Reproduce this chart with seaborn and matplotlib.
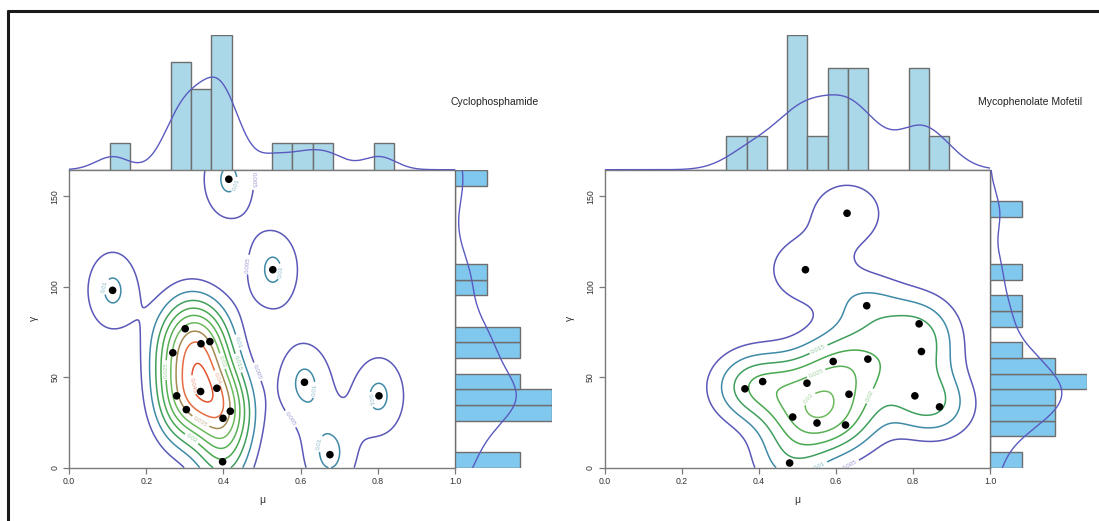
import numpy as np
import matplotlib
matplotlib.use("Agg")
import matplotlib.pyplot as plt
from matplotlib.lines import Line2D
import seaborn as sns

# ---------------- data ----------------
cyc_mu = [0.113, 0.414, 0.528, 0.301, 0.342, 0.365, 0.269, 0.341, 0.383,
          0.279, 0.304, 0.418, 0.399, 0.398, 0.610, 0.803, 0.676]
cyc_gamma = [98.0, 159.4, 109.4, 76.8, 68.5, 69.7, 63.5, 42.1, 43.9,
             39.7, 32.1, 31.2, 27.3, 3.3, 47.2, 39.7, 7.2]
mmf_mu = [0.629, 0.521, 0.680, 0.816, 0.822, 0.593, 0.683, 0.410, 0.525,
          0.364, 0.634, 0.805, 0.869, 0.488, 0.551, 0.625, 0.480]
mmf_gamma = [140.6, 109.4, 89.5, 79.5, 64.2, 58.7, 60.0, 47.6, 46.7,
             43.6, 40.6, 39.7, 33.6, 28.0, 24.7, 23.6, 2.6]
titles = ["Cyclophosphamide", "Mycophenolate Mofetil"]
levels = [0.005, 0.01, 0.015, 0.02, 0.025, 0.03, 0.035, 0.04, 0.045]
level_colors = ["#5a58b8", "#3f8aa6", "#3e9e5c", "#47a84e", "#58b054",
                "#6cba5c", "#a38a52", "#e46c40", "#e2532f"]
x_ticks = [0.0, 0.2, 0.4, 0.6, 0.8, 1.0]
x_tick_labels = ["0.0", "0.2", "0.4", "0.6", "0.8", "1.0"]
y_ticks = [0, 50, 100, 150]
y_tick_labels = ["0", "50", "100", "150"]
YMAX = 164.5
N_BINS = 19

# ---------------- style ----------------
sns.set_style("white")
plt.rcParams["font.family"] = ["Liberation Sans", "DejaVu Sans"]

W, H = 1099, 521
fig = plt.figure(figsize=(W / 100, H / 100), dpi=100)


def fr(x0, y0, x1, y1):
    return [x0 / W, 1 - y1 / H, (x1 - x0) / W, (y1 - y0) / H]


def nrd_sd(v, mult):
    v = np.asarray(v)
    q1, q3 = np.percentile(v, [25, 75])
    return mult * min(np.std(v, ddof=1), (q3 - q1) / 1.34) * len(v) ** -0.2


def kde2d(x, y, gx, gy):
    x = np.asarray(x); y = np.asarray(y)
    n = len(x)
    hx, hy = nrd_sd(x, 1.06), nrd_sd(y, 1.06)
    kx = np.exp(-0.5 * ((gx[:, None] - x[None, :]) / hx) ** 2) / (np.sqrt(2 * np.pi) * hx)
    ky = np.exp(-0.5 * ((gy[:, None] - y[None, :]) / hy) ** 2) / (np.sqrt(2 * np.pi) * hy)
    return ky @ kx.T / n


spine_col = "#7a7a7a"
txt_col = "#333333"
top_fill = "#aad8e8"
side_fill = "#80c8ee"
edge_col = "#6e6e6e"
curve_col = "#5a5ac0"

panels = [
    (cyc_mu, cyc_gamma, 69, 455, 450.7),
    (mmf_mu, mmf_gamma, 604.7, 990, 978.3),
]

xbins = np.linspace(0, 1, N_BINS + 1)
ybins = np.linspace(0, YMAX, N_BINS + 1)

for i, (mu, gam, xl, xr, tx) in enumerate(panels):
    ax = fig.add_axes(fr(xl, 170, xr, 467.7))
    axt = fig.add_axes(fr(xl, 34.7, xr, 169.7))
    axr = fig.add_axes(fr(xr, 170, xr + 97, 467.7))

    # contours
    gx = np.linspace(0, 1, 300)
    gy = np.linspace(0, YMAX, 300)
    Z = kde2d(mu, gam, gx, gy)
    cs = ax.contour(gx, gy, Z, levels=levels, colors=level_colors, linewidths=1.1)
    labs = ax.clabel(cs, fmt=lambda v: f"{v:g}", fontsize=4.5, inline=True, inline_spacing=2)
    for t in labs:
        t.set_alpha(0.6)
    sns.scatterplot(x=mu, y=gam, color="black", s=30, edgecolor="none", ax=ax, zorder=5)

    ax.set_xlim(0, 1)
    ax.set_ylim(0, YMAX)
    ax.set_xticks(x_ticks)
    ax.set_xticklabels(x_tick_labels)
    ax.set_yticks(y_ticks)
    ax.set_yticklabels(y_tick_labels, rotation=90, va="center")
    for s in ax.spines.values():
        s.set_color(spine_col)
        s.set_linewidth(1.0)
        s.set_visible(True)
    ax.tick_params(axis="both", direction="out", length=4, width=0.9, color=spine_col,
                   labelsize=6.3, labelcolor=txt_col, pad=3, bottom=True, left=True)
    ax.set_xlabel("μ", fontsize=7.5, color=txt_col, labelpad=6)
    ax.set_ylabel("γ", fontsize=7.5, color=txt_col, labelpad=8)

    # top marginal
    sns.histplot(x=mu, bins=xbins, stat="density", color=top_fill, edgecolor=edge_col,
                 linewidth=1.0, alpha=1, ax=axt)
    hmax = max(p.get_height() for p in axt.patches)
    fac_x = nrd_sd(mu, 0.9) / np.std(mu, ddof=1)
    sns.kdeplot(x=mu, bw_method=fac_x, cut=40, clip=(0, 1), gridsize=400,
                color=curve_col, linewidth=1.0, ax=axt)
    axt.set_xlim(0, 1)
    axt.set_ylim(0, hmax)
    axt.axis("off")

    # right marginal
    sns.histplot(y=gam, bins=ybins, stat="density", color=side_fill, edgecolor=edge_col,
                 linewidth=1.0, alpha=1, ax=axr)
    wmax = max(p.get_width() for p in axr.patches)
    fac_y = nrd_sd(gam, 0.9) / np.std(gam, ddof=1)
    sns.kdeplot(y=gam, bw_method=fac_y, cut=40, clip=(0, YMAX), gridsize=400,
                color=curve_col, linewidth=1.0, ax=axr)
    axr.set_ylim(0, YMAX)
    axr.set_xlim(0, wmax)
    axr.axis("off")

    fig.text(tx / W, 1 - 101.7 / H, titles[i], fontsize=7.5, color="#222222",
             ha="left", va="center")

# outer frame (left and top edges)
fig.add_artist(Line2D([8 / W, 8 / W], [0, 1 - 11 / H], color="#1a1a1a", linewidth=2.2))
fig.add_artist(Line2D([8 / W, 1], [1 - 11 / H, 1 - 11 / H], color="#1a1a1a", linewidth=2.2))

fig.savefig("out.png", dpi=100)
